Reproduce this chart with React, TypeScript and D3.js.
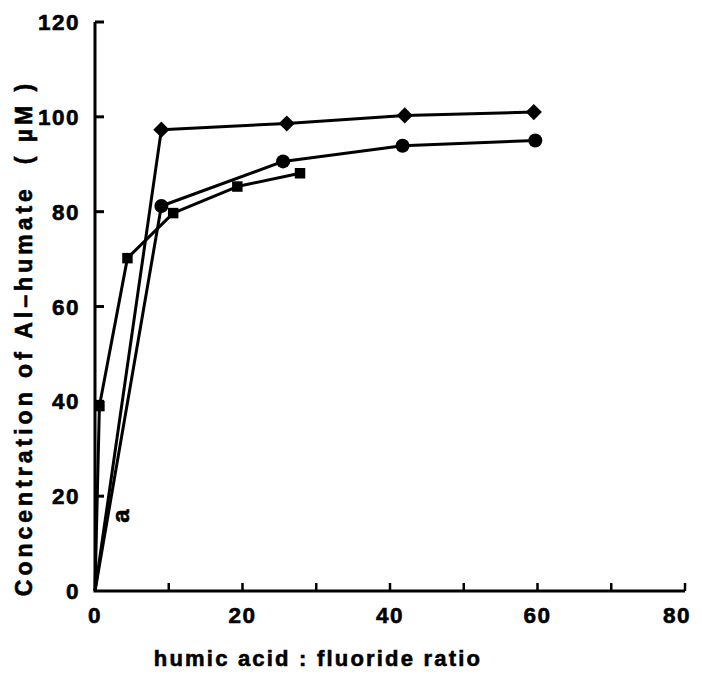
import React, { useEffect, useRef } from 'react';
import * as d3 from 'd3';

// humic acid : fluoride ratio vs Al-humate concentration (uM)
const diamondX = [0, 9, 26, 42, 59.5];
const diamondY = [0, 97.3, 98.6, 100.3, 101];

const circleX = [0, 9, 25.5, 41.7, 59.7];
const circleY = [0, 81.2, 90.6, 93.9, 95];

const squareX = [0, 0.6, 4.4, 10.6, 19.3, 27.8];
const squareY = [0, 39, 70.2, 79.7, 85.3, 88.1];

const xTicks = [0, 20, 40, 60, 80];
const xMinorTicks = [10, 30, 50, 70];
const yTicks = [0, 20, 40, 60, 80, 100, 120];

const labelA = { x: 3.6, y: 15.8, text: 'a' };

const width = 702;
const height = 681;

export default function App() {
  const ref = useRef<SVGSVGElement>(null);

  useEffect(() => {
    const svg = d3.select(ref.current);
    svg.selectAll('*').remove();

    const font = '"Liberation Sans", Arial, sans-serif';
    const boldText = (sel: any, size: number, spacing: number) =>
      sel
        .attr('font-family', font)
        .attr('font-weight', 'bold')
        .attr('font-size', size)
        .attr('letter-spacing', spacing)
        .attr('stroke', '#000')
        .attr('stroke-width', 0.6)
        .attr('fill', '#000');

    const xScale = d3.scaleLinear().domain([0, 80]).range([95, 685]);
    const yScale = d3.scaleLinear().domain([0, 120]).range([591, 22]);

    // axes
    const axis = svg.append('g').attr('stroke', '#000').attr('stroke-width', 3).attr('fill', 'none');
    axis
      .append('path')
      .attr('d', `M${xScale(0)},${yScale(120)} V${yScale(0)} H${xScale(80)}`)
      .attr('stroke-linejoin', 'miter');

    axis
      .selectAll('line.ytick')
      .data(yTicks.filter((d) => d > 0))
      .enter()
      .append('line')
      .attr('class', 'ytick')
      .attr('x1', xScale(0))
      .attr('x2', xScale(0) + 9)
      .attr('y1', (d) => yScale(d))
      .attr('y2', (d) => yScale(d));

    axis
      .selectAll('line.xtick')
      .data(xTicks.concat(xMinorTicks).filter((d) => d > 0))
      .enter()
      .append('line')
      .attr('class', 'xtick')
      .attr('stroke-width', 2.5)
      .attr('x1', (d) => xScale(d))
      .attr('x2', (d) => xScale(d))
      .attr('y1', yScale(0))
      .attr('y2', yScale(0) - 8);

    // tick labels
    boldText(
      svg
        .append('g')
        .selectAll('text')
        .data(yTicks)
        .enter()
        .append('text')
        .attr('x', 80)
        .attr('y', (d) => yScale(d) + 8)
        .attr('text-anchor', 'end'),
      22.5,
      1.5
    ).text((d) => d);

    boldText(
      svg
        .append('g')
        .selectAll('text')
        .data(xTicks)
        .enter()
        .append('text')
        .attr('x', (d) => xScale(d) + (d === 80 ? -8 : 0))
        .attr('y', 623)
        .attr('text-anchor', 'middle'),
      22.5,
      1.5
    ).text((d) => d);

    // axis titles
    boldText(
      svg.append('text').attr('x', 318).attr('y', 666).attr('text-anchor', 'middle'),
      22,
      2.2
    ).text('humic acid : fluoride ratio');

    boldText(
      svg
        .append('text')
        .attr('transform', 'translate(32,338) rotate(-90)')
        .attr('text-anchor', 'middle')
        .style('white-space', 'pre'),
      23,
      4
    ).text('Concentration of Al\u2013humate  ( \u00b5M )');

    // series
    const line = d3
      .line<[number, number]>()
      .x((d) => xScale(d[0]))
      .y((d) => yScale(d[1]));

    const series = [
      { xs: diamondX, ys: diamondY, symbol: d3.symbolSquare, size: 130, rot: 45 },
      { xs: circleX, ys: circleY, symbol: d3.symbolCircle, size: 155, rot: 0 },
      { xs: squareX, ys: squareY, symbol: d3.symbolSquare, size: 110, rot: 0 },
    ];

    series.forEach((s) => {
      const pts: [number, number][] = s.xs.map((x, i) => [x, s.ys[i]]);
      svg
        .append('path')
        .attr('d', line(pts))
        .attr('fill', 'none')
        .attr('stroke', '#000')
        .attr('stroke-width', 3)
        .attr('stroke-linejoin', 'round');

      const sym = d3.symbol().type(s.symbol).size(s.size);
      svg
        .append('g')
        .selectAll('path')
        .data(pts.filter((p) => p[0] > 0))
        .enter()
        .append('path')
        .attr('d', sym)
        .attr('transform', (p) => `translate(${xScale(p[0])},${yScale(p[1])}) rotate(${s.rot})`)
        .attr('fill', '#000');
    });

    boldText(
      svg
        .append('text')
        .attr('transform', `translate(${xScale(labelA.x)},${yScale(labelA.y)}) rotate(-90)`)
        .attr('text-anchor', 'middle')
        .attr('dy', 7),
      24,
      0
    ).text(labelA.text);
  }, []);

  return (
    <svg
      ref={ref}
      width={width}
      height={height}
      style={{ position: 'absolute', left: 0, top: 0, background: '#fff' }}
    />
  );
}
